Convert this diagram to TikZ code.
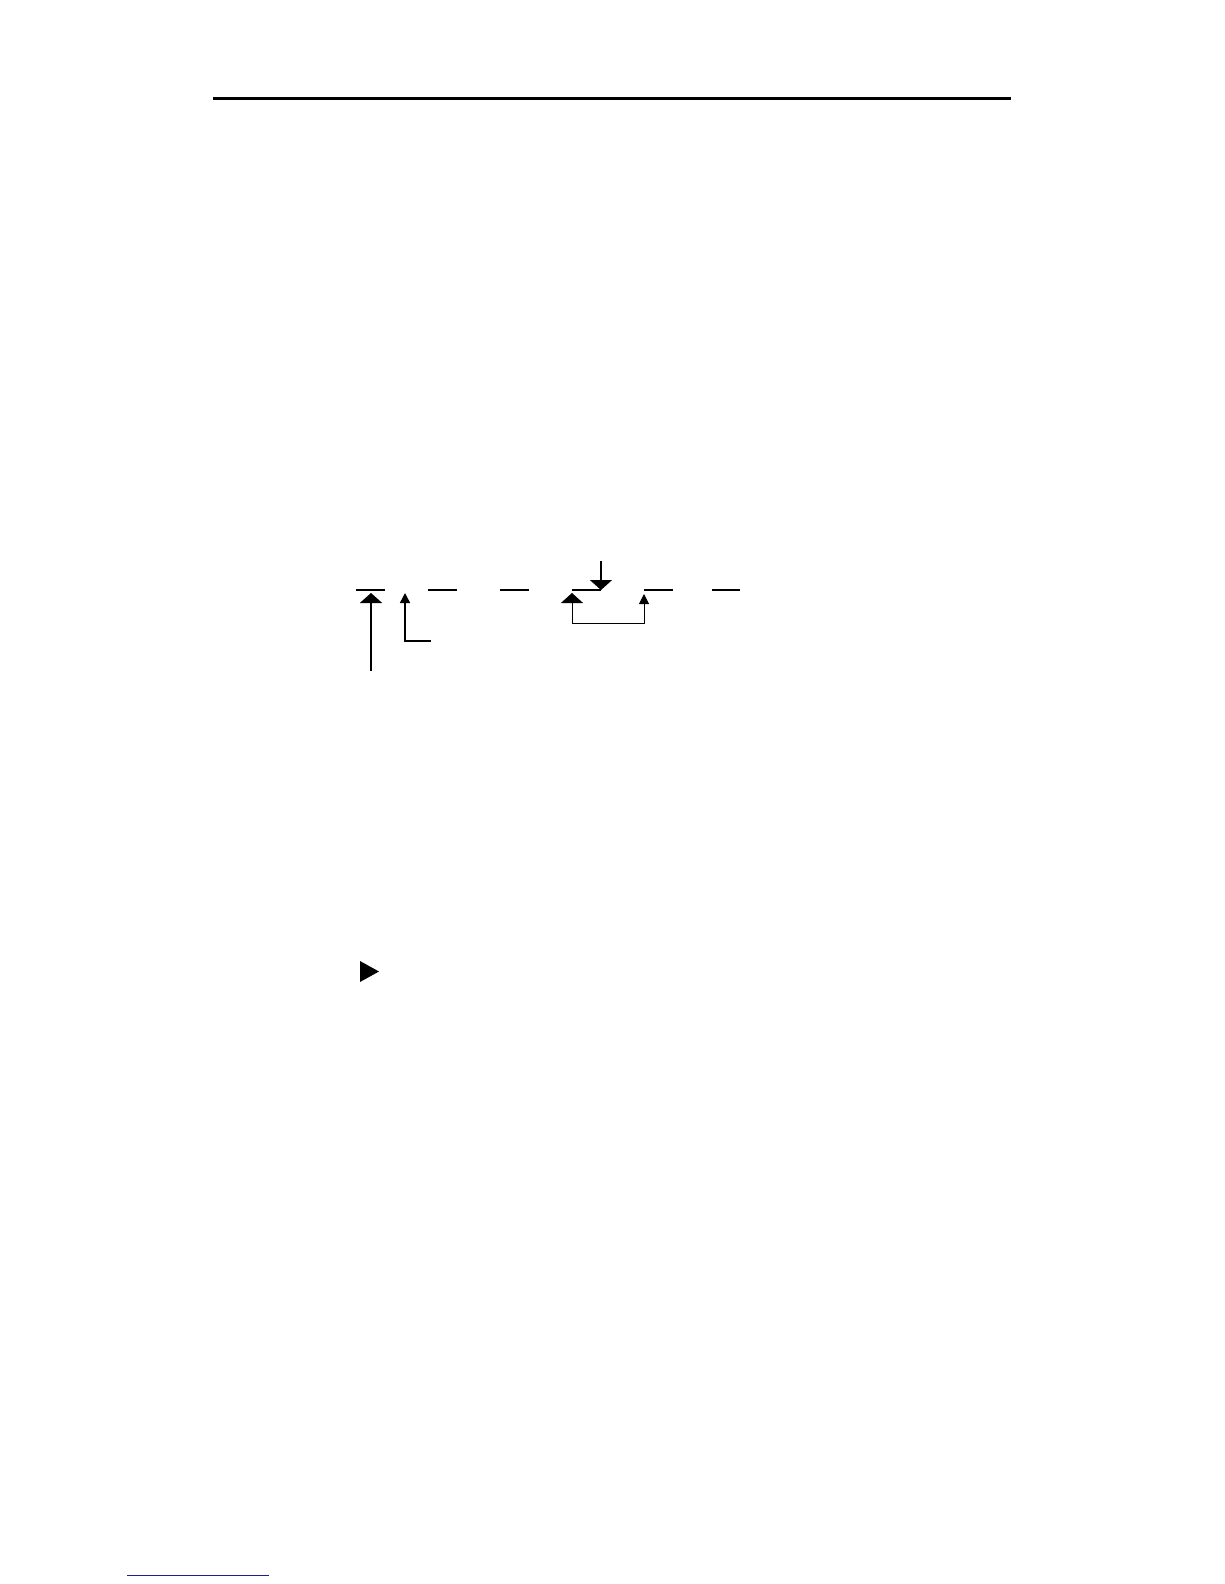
\documentclass[tikz,border=0pt]{standalone}
\usetikzlibrary{arrows.meta}
\definecolor{linkblue}{RGB}{30,30,140}
\tikzset{
  rule/.style={line width=3pt},
  seg/.style={line width=2pt},
  conn/.style={line width=1.5pt},
  thinconn/.style={line width=1pt},
  bighead/.style={-{Triangle[width=22pt,length=10pt]}},
  smallhead/.style={-{Triangle[width=10pt,length=10pt]}},
}
\begin{document}
\begin{tikzpicture}[x=1pt,y=-1pt]
\useasboundingbox (0,0) rectangle (1224,1584);
\fill[white] (0,0) rectangle (1224,1584);
% top rule
\coordinate (rl) at (213,98.5);
\coordinate (rr) at (1011,98.5);
\draw[rule] (rl) -- (rr);
% short segments
\foreach \n/\a/\b in {1/356/385,2/428/457,3/500/529,4/572/601,5/644/673,6/712/740}{
  \coordinate (s\n l) at (\a,590);
  \coordinate (s\n r) at (\b,590);
  \draw[seg] (s\n l) -- (s\n r);
}
% arrow 1
\coordinate (a1s) at (371,671);
\coordinate (a1t) at (371,593);
\draw[line width=2pt,bighead] (a1s) -- (a1t);
% arrow 2
\coordinate (a2s) at (431,641);
\coordinate (a2t) at (405,593);
\draw[conn,smallhead] (a2s) -| (a2t);
% arrow 3 (down)
\coordinate (a3s) at (601,561);
\coordinate (a3t) at (601,590);
\draw[conn,bighead] (a3s) -- (a3t);
% bracket arrows
\coordinate (b1t) at (572,593);
\coordinate (b2t) at (644,594);
\coordinate (bb) at (608,623);
\draw[thinconn,bighead] (bb) -| (b1t);
\draw[thinconn,smallhead] (bb) -| (b2t);
% triangle
\coordinate (t1) at (360,961);
\coordinate (t2) at (360,982);
\coordinate (t3) at (379,971.5);
\fill (t1) -- (t3) -- (t2) -- cycle;
% bottom link line
\coordinate (ll) at (127,1575);
\coordinate (lr) at (269,1575);
\draw[linkblue,line width=1pt] (ll) -- (lr);
\end{tikzpicture}
\end{document}
